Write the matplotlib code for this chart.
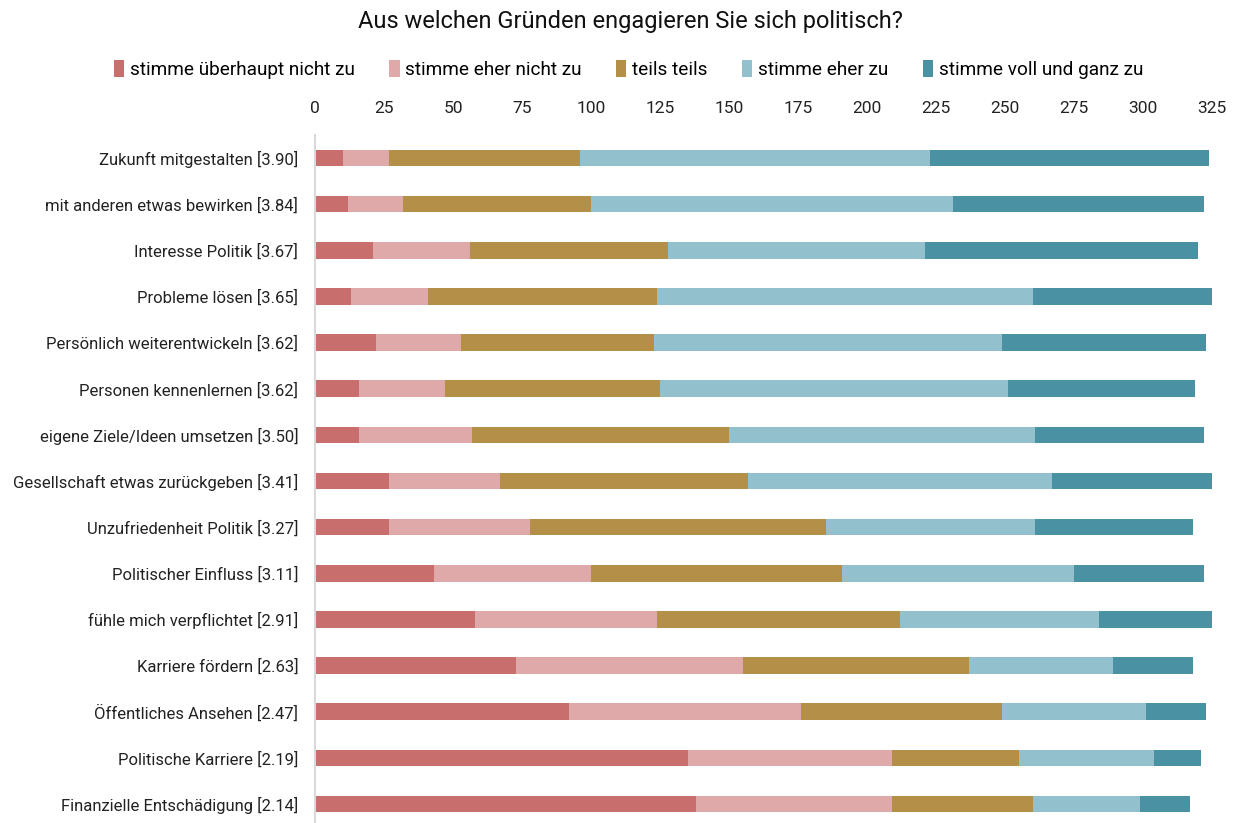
import numpy as np
import matplotlib
matplotlib.use('Agg')
import matplotlib.pyplot as plt
from matplotlib.patches import Patch

plt.rcParams['font.family'] = ['Roboto', 'DejaVu Sans']

# Items (top to bottom) with mean score
items = ['Zukunft mitgestalten [3.90]', 'mit anderen etwas bewirken [3.84]',
         'Interesse Politik [3.67]', 'Probleme lösen [3.65]',
         'Persönlich weiterentwickeln [3.62]', 'Personen kennenlernen [3.62]',
         'eigene Ziele/Ideen umsetzen [3.50]', 'Gesellschaft etwas zurückgeben [3.41]',
         'Unzufriedenheit Politik [3.27]', 'Politischer Einfluss [3.11]',
         'fühle mich verpflichtet [2.91]', 'Karriere fördern [2.63]',
         'Öffentliches Ansehen [2.47]', 'Politische Karriere [2.19]',
         'Finanzielle Entschädigung [2.14]']

categories = ['stimme überhaupt nicht zu', 'stimme eher nicht zu', 'teils teils',
              'stimme eher zu', 'stimme voll und ganz zu']

# counts per answer category
ueberhaupt_nicht = [10, 12, 21, 13, 22, 16, 16, 27, 27, 43, 58, 73, 92, 135, 138]
eher_nicht = [17, 20, 35, 28, 31, 31, 41, 40, 51, 57, 66, 82, 84, 74, 71]
teils = [69, 68, 72, 83, 70, 78, 93, 90, 107, 91, 88, 82, 73, 46, 51]
eher_zu = [127, 131, 93, 136, 126, 126, 111, 110, 76, 84, 72, 52, 52, 49, 39]
voll_zu = [101, 91, 99, 65, 74, 68, 61, 58, 57, 47, 41, 29, 22, 17, 18]

colors = ['#C86F6E', '#DFA9AA', '#B38F47', '#92C0CC', '#4A91A3']
series = [ueberhaupt_nicht, eher_nicht, teils, eher_zu, voll_zu]

fig = plt.figure(figsize=(12.42, 8.23), dpi=100)
ax = fig.add_axes([0.2536, -0.005, 0.7222, 0.841])

y = np.arange(len(items))
left = np.zeros(len(items))
for vals, col, name in zip(series, colors, categories):
    ax.barh(y, vals, left=left, height=0.36, color=col, label=name)
    left += np.array(vals)

ax.set_ylim(len(items) - 0.5, -0.5)
ax.set_xlim(0, 325)
ax.set_xticks(np.arange(0, 326, 25))
ax.xaxis.tick_top()
ax.tick_params(axis='x', length=0, labelsize=12.5, pad=14, colors='#222222')
ax.set_yticks(y)
ax.set_yticklabels(items)
ax.tick_params(axis='y', length=0, labelsize=12, pad=12, colors='#222222')

for s in ['top', 'right', 'bottom']:
    ax.spines[s].set_visible(False)
ax.spines['left'].set_color('#d9d9d9')
ax.spines['left'].set_linewidth(1.5)

fig.suptitle('Aus welchen Gründen engagieren Sie sich politisch?', x=0.508, y=0.988,
             fontsize=17, color='#111111')

handles = [Patch(facecolor=c) for c in colors]
fig.legend(handles, categories, loc='center', bbox_to_anchor=(0.506, 0.916), ncol=5,
           frameon=False, fontsize=13.7, handlelength=0.55, handleheight=1.0,
           handletextpad=0.3, columnspacing=1.8)

fig.savefig('out.png', dpi=100)
